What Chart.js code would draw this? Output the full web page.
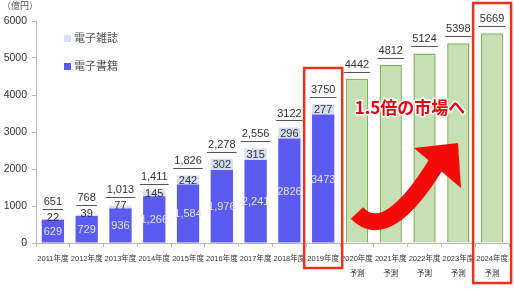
<!DOCTYPE html>
<html>
<head>
<meta charset="utf-8">
<script src="https://cdn.jsdelivr.net/npm/chart.js@4"></script>
<style>
  html, body { margin: 0; padding: 0; background: #fff; }
  #wrap { width: 514px; height: 299px; }
</style>
</head>
<body>
<div id="wrap"><canvas id="c" width="514" height="299"></canvas></div>
<script>
const years = ['2011年度', '2012年度', '2013年度', '2014年度', '2015年度', '2016年度', '2017年度',
  '2018年度', '2019年度', '2020年度', '2021年度', '2022年度', '2023年度', '2024年度'];
const books = [629, 729, 936, 1266, 1584, 1976, 2241, 2826, 3473, null, null, null, null, null];
const magazines = [22, 39, 77, 145, 242, 302, 315, 296, 277, null, null, null, null, null];
const forecast = [null, null, null, null, null, null, null, null, null, 4442, 4812, 5124, 5398, 5669];
const bookLabels = ['629', '729', '936', '1,266', '1,584', '1,976', '2,241', '2826', '3473'];
const totalLabels = ['651', '768', '1,013', '1,411', '1,826', '2,278', '2,556', '3122', '3750',
  '4442', '4812', '5124', '5398', '5669'];
const yTicks = [0, 1000, 2000, 3000, 4000, 5000, 6000];
const firstForecast = 9;

const NUM_FONT = "'Liberation Sans', sans-serif";
const JP_FONT = "'Liberation Sans', 'Noto Sans CJK JP', sans-serif";

const labels = years.map((y, i) => i >= firstForecast ? [y, '予測'] : y);

// value labels, legend, red boxes, arrow and caption
const decorations = {
  id: 'decorations',
  afterDatasetsDraw(chart) {
    const ctx = chart.ctx;
    const xs = chart.scales.x, ys = chart.scales.y;
    const mb = chart.getDatasetMeta(0), mm = chart.getDatasetMeta(1), mf = chart.getDatasetMeta(2);
    ctx.save();
    ctx.textAlign = 'center';
    ctx.textBaseline = 'middle';

    // book values inside the blue part
    ctx.font = '11px ' + NUM_FONT;
    ctx.fillStyle = '#dfe2ff';
    books.forEach((v, i) => {
      if (v == null) return;
      const el = mb.data[i];
      ctx.fillText(bookLabels[i], el.x, (el.y + el.base) / 2 + 1);
    });

    // magazine values and totals
    const magY = [];
    magazines.forEach((v, i) => {
      if (v == null) return;
      const el = mm.data[i];
      const yy = Math.min((el.y + el.base) / 2 + 1, el.base - 2);
      magY[i] = yy;
      ctx.fillStyle = '#333';
      ctx.fillText(String(v), el.x, yy);
    });

    totalLabels.forEach((t, i) => {
      const el = i < firstForecast ? mm.data[i] : mf.data[i];
      let ty = el.y - 14;
      if (magY[i] != null) ty = Math.min(ty, magY[i] - 16);
      ctx.fillStyle = '#333';
      ctx.fillText(t, el.x, ty);
      const w = ctx.measureText(t).width;
      ctx.strokeStyle = '#555';
      ctx.lineWidth = 1;
      ctx.beginPath();
      ctx.moveTo(el.x - w / 2 - 1, Math.round(ty + 7) + 0.5);
      ctx.lineTo(el.x + w / 2 + 1, Math.round(ty + 7) + 0.5);
      ctx.stroke();
    });

    // unit
    ctx.font = '9px ' + JP_FONT;
    ctx.fillStyle = '#555';
    ctx.fillText('（億円）', 20, 7);

    // legend
    ctx.textAlign = 'left';
    ctx.font = '11px ' + JP_FONT;
    ctx.fillStyle = '#d6def2';
    ctx.fillRect(64, 35, 7, 7);
    ctx.fillStyle = '#5b5bf2';
    ctx.fillRect(64, 63, 7, 7);
    ctx.fillStyle = '#555';
    ctx.fillText('電子雑誌', 74, 38.5);
    ctx.fillText('電子書籍', 74, 66.5);

    // red frames
    ctx.strokeStyle = '#e8321e';
    ctx.lineWidth = 2.5;
    const box = (i, bottom) => {
      const cx = xs.getPixelForValue(i);
      const total = i < firstForecast ? books[i] + magazines[i] : forecast[i];
      const top = Math.max(ys.getPixelForValue(total + 980), 3);
      ctx.strokeRect(cx - 19, top, 38, bottom - top);
    };
    box(8, 268);
    box(13, 283);

    // curved arrow
    const ax = xs.getPixelForValue(firstForecast);
    const ay = ys.getPixelForValue(0);
    ctx.fillStyle = '#f50a0a';
    ctx.strokeStyle = '#f50a0a';
    ctx.lineWidth = 17;
    ctx.lineCap = 'butt';
    ctx.beginPath();
    ctx.moveTo(ax, ay - 30);
    ctx.bezierCurveTo(ax + 21, ay - 8, ax + 48, ay - 28, ax + 80, ay - 80);
    ctx.stroke();
    ctx.beginPath();
    ctx.moveTo(ax + 57, ay - 95);
    ctx.lineTo(ax + 101, ay - 100);
    ctx.lineTo(ax + 104, ay - 55);
    ctx.closePath();
    ctx.fill();

    // caption
    ctx.textAlign = 'center';
    ctx.font = 'bold 17px "Noto Sans CJK JP", sans-serif';
    ctx.lineWidth = 3;
    ctx.strokeStyle = '#fff';
    ctx.lineJoin = 'round';
    ctx.strokeText('1.5倍の市場へ', 410, 108);
    ctx.fillStyle = '#e60012';
    ctx.fillText('1.5倍の市場へ', 410, 108);
    ctx.restore();
  }
};

new Chart(document.getElementById('c'), {
  type: 'bar',
  data: {
    labels: labels,
    datasets: [
      { label: '電子書籍', data: books, backgroundColor: '#5b5bf2', barPercentage: 0.66, categoryPercentage: 1 },
      { label: '電子雑誌', data: magazines, backgroundColor: '#d6def2', barPercentage: 0.66, categoryPercentage: 1 },
      { label: '予測', data: forecast, backgroundColor: '#c6e0b4', borderColor: '#7db55a', borderWidth: 1.5,
        barPercentage: 0.66, categoryPercentage: 1 }
    ]
  },
  options: {
    responsive: false,
    animation: false,
    layout: { padding: { top: 21, right: 5, left: 0, bottom: 0 } },
    plugins: { legend: { display: false }, tooltip: { enabled: false } },
    scales: {
      x: {
        stacked: true,
        grid: { drawOnChartArea: false, tickLength: 4, color: '#bbb' },
        border: { color: '#bbb' },
        ticks: { color: '#333', font: { size: 7.5, family: JP_FONT, lineHeight: 2 }, maxRotation: 0, autoSkip: false, padding: 4 },
        afterFit: (s) => { s.height = 56; }
      },
      y: {
        stacked: true,
        min: 0,
        max: 6000,
        afterBuildTicks: (s) => { s.ticks = yTicks.map(v => ({ value: v })); },
        grid: { drawOnChartArea: false, tickLength: 4, color: '#bbb' },
        border: { color: '#bbb' },
        ticks: { color: '#333', font: { size: 10.5, family: NUM_FONT }, padding: 5, callback: (v) => String(v) },
        afterFit: (s) => { s.width = 36; }
      }
    }
  },
  plugins: [decorations]
});
</script>
</body>
</html>
